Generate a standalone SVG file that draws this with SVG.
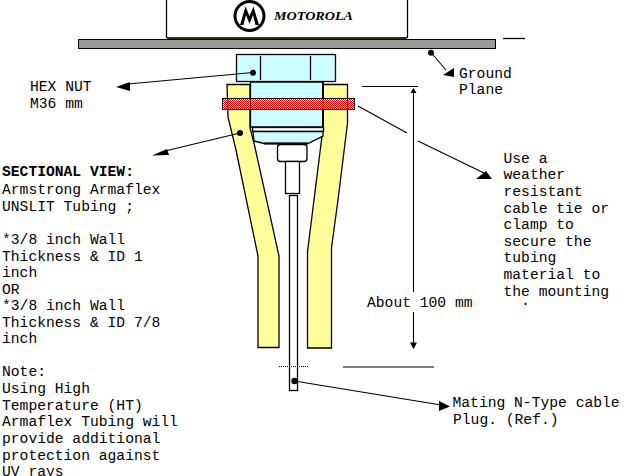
<svg xmlns="http://www.w3.org/2000/svg" width="636" height="476" viewBox="0 0 636 476">
<style>
text{font-family:"Liberation Mono","Courier New",monospace;font-size:14.67px;fill:#000}
.b{font-weight:bold}
.o{stroke:#000;stroke-width:1.3;fill:none}
.y{stroke:#000;stroke-width:1.3;fill:#ffff99}
.c{stroke:#000;stroke-width:1.3;fill:#ccffff}
.w{stroke:#000;stroke-width:1.3;fill:#fff}
.l{stroke:#000;stroke-width:1.1;fill:none}
.h{fill:#000;stroke:none}
.d{fill:#000;stroke:none}
</style>
<defs>
<pattern id="dither" width="2" height="2" patternUnits="userSpaceOnUse">
<rect width="2" height="2" fill="#ffff99"/>
<rect width="1" height="1" fill="#ff0000"/>
<rect x="1" y="1" width="1" height="1" fill="#ff0000"/>
</pattern>
</defs>
<rect width="636" height="476" fill="#fff"/>
<g id="radio">
<path class="o" d="M166.500 0V38M407.500 0V38"/>
<rect x="167" y="37" width="240" height="2" fill="#333300"/>
<circle cx="249.500" cy="16" r="14.500" fill="none" stroke="#000" stroke-width="3"/>
<path class="h" d="M240 25L245.500 6.500L249.500 16L253.500 6.500L259 25L255.500 25L253 15L249.500 24L246 15L243.500 25Z"/>
<text x="274" y="20" textLength="79" lengthAdjust="spacingAndGlyphs" style="font-family:'Liberation Serif',serif;font-weight:bold;font-style:italic;font-size:13px">MOTOROLA</text>
</g>
<g id="ground-plane">
<rect x="78.500" y="39.500" width="417" height="9" fill="#999999" stroke="#000" stroke-width="1"/>
<path class="o" d="M503 38.500H525"/>
</g>
<g id="tubing">
<path class="y" d="M227 84.500H250V128L254 143L279 256V347.500H258V256L236 150L228 117Z"/>
<path class="y" d="M323 84.500H347.500V123L338 200L331.500 248V348H307.500V252L322 136Z"/>
</g>
<g id="hex-nut">
<rect class="c" x="236.500" y="54.500" width="99" height="27"/>
<path class="o" d="M260.500 56V80M310.500 56V80"/>
</g>
<g id="connector-body">
<path class="c" d="M250.500 82H323V127H250.500Z"/>
<path d="M323 82V127" stroke="#000" stroke-width="2"/>
<rect class="w" x="252.500" y="127.500" width="71" height="4"/>
<path class="c" d="M253 131.500L254 141L264 143.500H308L323 136V131.500Z"/>
<path d="M264 143.500H308" stroke="#000" stroke-width="2"/>
<rect class="w" x="277.500" y="144.500" width="29.500" height="17" rx="3"/>
<rect class="w" x="285.500" y="161.500" width="14" height="32"/>
<rect class="w" x="289.500" y="195.500" width="8" height="195"/>
<path d="M279 366.500H308" stroke="#000" stroke-width="1" stroke-dasharray="1 1"/>
</g>
<g id="cable-tie">
<rect x="222.500" y="98.500" width="132" height="11" fill="url(#dither)" stroke="#000" stroke-width="1"/>
<path d="M250.500 99V109M323 99V109M228 99V109M347.500 99V109" stroke="#990000" stroke-width="1"/>
</g>
<g id="connectors">
<path class="l" d="M362 86.500H418M343 367H434"/>
<path class="l" d="M413.500 92V292M413.500 312V344"/>
<path class="h" d="M413.500 88L416.500 93H410.500ZM413.500 349L410 342.500H417Z"/>
<path class="l" d="M431 52.500L446 70"/>
<circle class="d" cx="431" cy="52.700" r="3"/>
<path class="h" d="M454 68V77L443 75Z"/>
<path class="l" d="M253 72.500L128 84"/>
<circle class="d" cx="253" cy="72.700" r="3"/>
<path class="h" d="M116 87L130 82V91Z"/>
<path class="l" d="M240 133L165 151"/>
<circle class="d" cx="240" cy="133" r="3"/>
<path class="h" d="M152 155.500L167 149L169 155Z"/>
<path class="l" d="M358 106L407 133M418 141L484 173"/>
<path class="h" d="M486 171L492 179H476Z"/>
<path class="l" d="M294.500 381L441 405"/>
<circle class="d" cx="294.500" cy="381" r="3.200"/>
<path class="h" d="M439 401L450 406.500L439 411Z"/>
</g>
<g id="labels">
<text x="30" y="90.500">HEX NUT</text>
<text x="30" y="107.500">M36 mm</text>
<text x="459" y="77.500">Ground</text>
<text x="459" y="93.500">Plane</text>
<text x="367" y="306.500">About 100 mm</text>
<text x="452.500" y="406.500">Mating N-Type cable</text>
<text x="453" y="423.500">Plug. (Ref.)</text>
<text x="503.500" y="163">Use a</text>
<text x="503.500" y="179">weather</text>
<text x="503.500" y="195.500">resistant</text>
<text x="503.500" y="212.500">cable tie or</text>
<text x="503.500" y="228.500">clamp to</text>
<text x="503.500" y="245.500">secure the</text>
<text x="503.500" y="261.500">tubing</text>
<text x="503.500" y="278.500">material to</text>
<text x="503.500" y="295.500">the mounting</text>
<text x="521" y="305">.</text>
<text class="b" x="2" y="175.500">SECTIONAL VIEW:</text>
<text x="2" y="193.500">Armstrong Armaflex</text>
<text x="2" y="210.500">UNSLIT Tubing ;</text>
<text x="2" y="244">*3/8 inch Wall</text>
<text x="2" y="260.500">Thickness &amp; ID 1</text>
<text x="2" y="277">inch</text>
<text x="2" y="293.500">OR</text>
<text x="2" y="310">*3/8 inch Wall</text>
<text x="2" y="326.500">Thickness &amp; ID 7/8</text>
<text x="2" y="343">inch</text>
<text x="2" y="376">Note:</text>
<text x="2" y="393">Using High</text>
<text x="2" y="409.500">Temperature (HT)</text>
<text x="2" y="426">Armaflex Tubing will</text>
<text x="2" y="443">provide additional</text>
<text x="2" y="459.500">protection against</text>
<text x="2" y="476">UV rays</text>
</g>
</svg>
